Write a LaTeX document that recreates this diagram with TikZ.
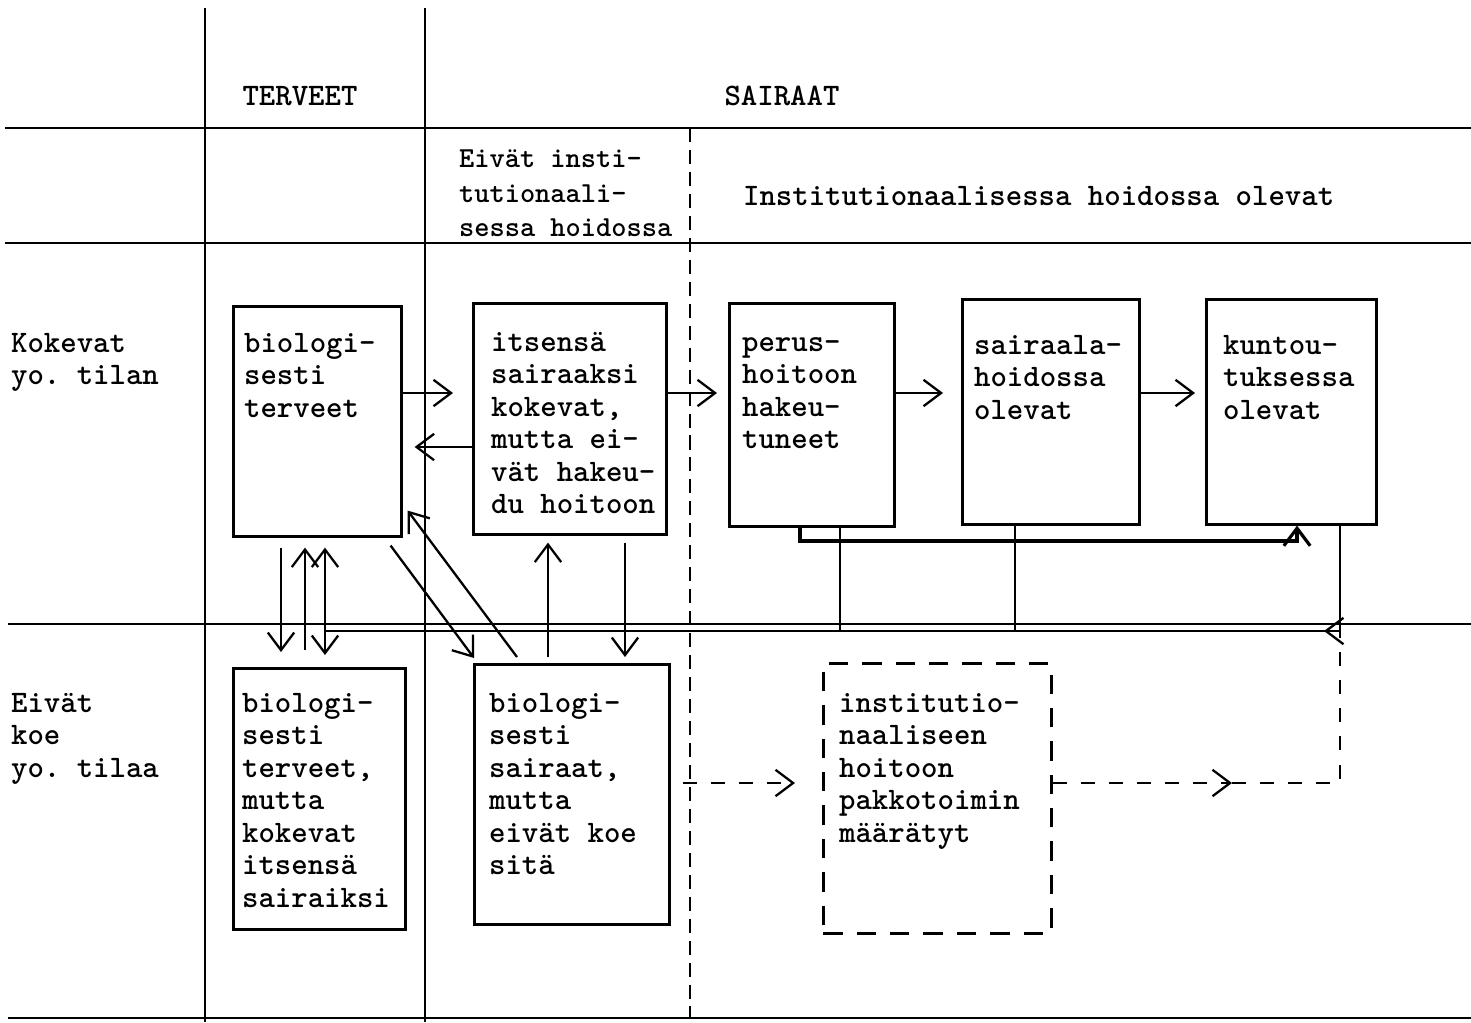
\documentclass[tikz,border=0pt]{standalone}
\usepackage{fontspec}
\usetikzlibrary{arrows.meta,positioning}

\begin{document}
\begin{tikzpicture}[x=0.02cm,y=-0.02cm,line width=1.3pt,
      >={Straight Barb[length=10pt,width=15pt]},
      box/.style={draw,line width=1.5pt,anchor=north west,inner sep=0pt},
      dbox/.style={box,dash pattern=on 11pt off 8pt},
      txt/.style={anchor=north west,align=left,inner sep=0pt,
        execute at begin node=\strut,
        font=\ttfamily\bfseries\frenchspacing\fontsize{17.8}{18.5}\selectfont},
      rule/.style={line width=1.3pt},
      drule/.style={line width=1.2pt,dash pattern=on 8pt off 4.5pt},
      dsh/.style={dash pattern=on 8pt off 8pt}]
      \useasboundingbox (0,0) rectangle (1471,1022);

      % table
      \draw[rule] (5,128) -- (1471,128);
      \draw[rule] (5,243) -- (1471,243);
      \draw[rule] (8,624) -- (1471,624);
      \draw[rule] (8,1018) -- (1471,1018);
      \draw[rule] (205,8) -- (205,1022);
      \draw[rule] (425,8) -- (425,1022);
      \draw[drule] (690,128) -- (690,1018);

      % headings
      \node[txt,anchor=base] (terveet) at (300,105) {TERVEET};
      \node[txt,anchor=base] (sairaat) at (782,105) {SAIRAAT};
      \node[txt,font=\ttfamily\bfseries\fontsize{16.5}{19.6}\selectfont] (eivat inst) at (458,149)
        {Eivät insti-\\tutionaali-\\sessa hoidossa};
      \node[txt,anchor=base west] (inst) at (742,205) {Institutionaalisessa hoidossa olevat};
      \node[txt] (kokevat) at (10,332) {Kokevat\\yo. tilan};
      \node[txt] (eivat koe) at (10,692) {Eivät\\koe\\yo. tilaa};

      % boxes
      \node[box,minimum width=3.36cm,minimum height=4.60cm] (bt1) at (232,305) {};
      \node[box,minimum width=3.86cm,minimum height=4.62cm] (it) at (472,302) {};
      \node[box,minimum width=3.30cm,minimum height=4.46cm] (pe) at (728,302) {};
      \node[box,minimum width=3.54cm,minimum height=4.50cm] (sa) at (961,298) {};
      \node[box,minimum width=3.40cm,minimum height=4.50cm] (ku) at (1205,298) {};
      \node[box,minimum width=3.44cm,minimum height=5.22cm] (bt2) at (232,667) {};
      \node[box,minimum width=3.90cm,minimum height=5.20cm] (bs) at (473,663) {};
      \node[dbox,minimum width=4.56cm,minimum height=5.40cm] (pk) at (822,662) {};

      \node[txt] (bt1 t) at (243,332) {biologi-\\sesti\\terveet};
      \node[txt] (it t) at (490,331) {itsensä\\sairaaksi\\kokevat,\\mutta ei-\\vät hakeu-\\du hoitoon};
      \node[txt] (pe t) at (741,336) {perus-\\hoitoon\\hakeu-\\tuneet};
      \node[txt] (sa t) at (973,334) {sairaala-\\hoidossa\\olevat};
      \node[txt] (ku t) at (1222,334) {kuntou-\\tuksessa\\olevat};
      \node[txt] (bt2 t) at (241,692) {biologi-\\sesti\\terveet,\\mutta\\kokevat\\itsensä\\sairaiksi};
      \node[txt] (bs t) at (488,692) {biologi-\\sesti\\sairaat,\\mutta\\eivät koe\\sitä};
      \node[txt] (pk t) at (838,692) {institutio-\\naaliseen\\hoitoon\\pakkotoimin\\määrätyt};

      % helper coordinates
      \coordinate (r1) at (0,393);
      \coordinate (r2) at (0,447);
      \coordinate (v1) at (281,0);
      \coordinate (v2) at (305,0);
      \coordinate (v3) at (325,0);
      \coordinate (v4) at (548,0);
      \coordinate (v5) at (625,0);
      \coordinate (f1) at (800,541);
      \coordinate (f2) at (1297,541);
      \coordinate (k) at (1340,631);
      \coordinate (kd) at (1340,783);
      \coordinate (p1) at (840,631);
      \coordinate (s1) at (1015,631);
      \coordinate (g0) at (683,783);
      \coordinate (gm) at (1232,783);

      % upper row
      \draw[->,shorten >=0.38cm] (bt1.east |- r1) -- (it.west |- r1);
      \draw[->,shorten >=0.24cm] (it.west |- r2) -- (bt1.east |- r2);
      \draw[->,shorten >=0.22cm] (it.east |- r1) -- (pe.west |- r1);
      \draw[->,shorten >=0.36cm] (pe.east |- r1) -- (sa.west |- r1);
      \draw[->,shorten >=0.2cm] (sa.east |- r1) -- (ku.west |- r1);
      \draw[->,line width=1.8pt] (pe.south -| f1) -- (f1) -- (f2) -- (ku.south -| f2);

      % between the rows
      \draw[->,shorten <=0.2cm,shorten >=0.3cm] (v1 |- bt1.south) -- (v1 |- bt2.north);
      \draw[->,shorten <=0.34cm,shorten >=0.2cm] (v2 |- bt2.north) -- (v2 |- bt1.south);
      \draw[<->,shorten <=0.2cm,shorten >=0.24cm] (v3 |- bt1.south) -- (v3 |- bt2.north);
      \draw[->,shorten <=0.12cm,shorten >=0.14cm] (v4 |- bs.north) -- (v4 |- it.south);
      \draw[->,shorten <=0.14cm,shorten >=0.12cm] (v5 |- it.south) -- (v5 |- bs.north);
      \draw[->] ([shift={(-12,8)}]bt1.south east) -- ([shift={(1,-5)}]bs.north west);
      \draw[->] ([shift={(44,-6)}]bs.north west) -- ([shift={(5,-27)}]bt1.south east);

      % return line
      \draw (ku.south -| k) -- (k) -- (v3 |- k);
      \draw (pe.south -| p1) -- (p1);
      \draw (sa.south -| s1) -- (s1);
      \draw[->] (k) -- ++(-16,0);

      % dashed
      \draw[dsh,->,shorten >=0.54cm] (g0) -- (pk.west |- g0);
      \draw[dsh,->] (pk.east |- kd) -- (gm);
      \draw[dsh] (gm) -- (kd) -- (k);
\end{tikzpicture}
\end{document}
